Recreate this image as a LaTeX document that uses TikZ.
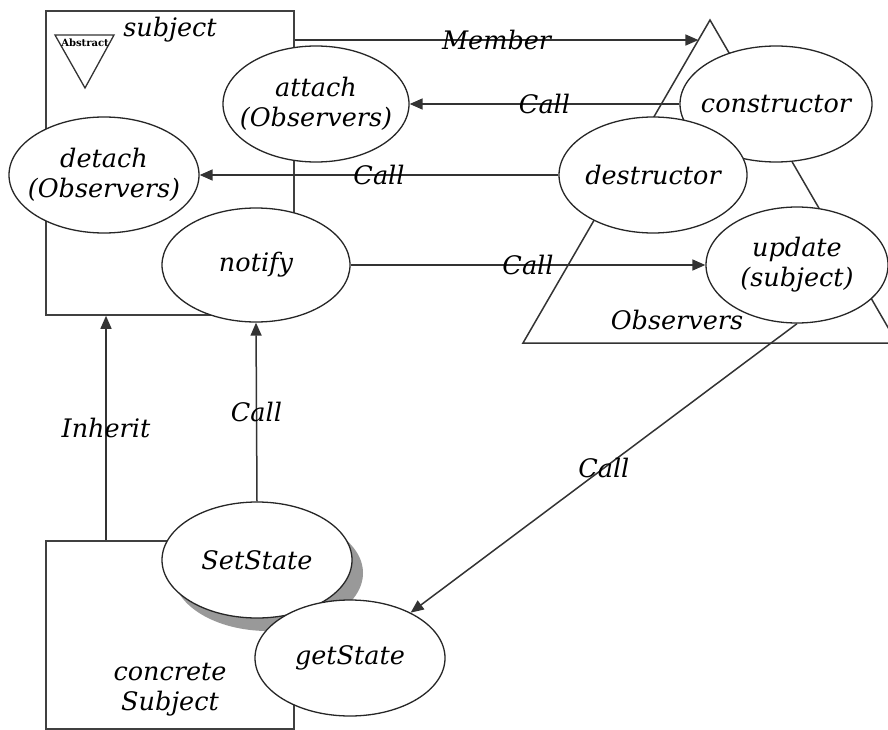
\documentclass[tikz,border=0pt]{standalone}
\usepackage{fontspec}
\setmainfont{DejaVu Serif}
\usetikzlibrary{shapes.geometric,arrows.meta,shadows,calc}
\begin{document}
\begin{tikzpicture}[x=1pt,y=-1pt,
  every node/.style={font=\fontsize{25.5}{30}\selectfont\itshape, text=black},
  ln/.style={draw=black!80, line width=1.5pt},
  arr/.style={ln, -{Triangle[length=13pt,width=11pt]}},
  oval/.style={ellipse, draw=black!85, line width=1.3pt, fill=white,
    inner xsep=-20pt, inner ysep=-8pt, align=center},
  frame/.style={draw=black!75, line width=1.8pt, inner sep=0pt, fill=white},
  lbl/.style={inner sep=1pt}
]
\useasboundingbox (0,0) rectangle (888,730);
\clip (0,0) rectangle (888,730);

% class frames
\node[frame, minimum width=248pt, minimum height=304pt, anchor=north west] (subj) at (45,10) {};
\node[frame, minimum width=248pt, minimum height=188pt, anchor=north west] (conc) at (45,540) {};

% abstract marker
\draw[ln, line width=1.3pt] (55,35) -- (114,35) -- (85,88) -- cycle;
\node[font=\fontsize{10}{10}\selectfont\bfseries, inner sep=0pt] (abs) at (85,43) {Abstract};
\node (subjlbl) at (170,30) {subject};

% observers group
\coordinate (obsTop) at (710,20);
\coordinate (obsL) at (523,343);
\coordinate (obsR) at (897,343);
\draw[ln] (obsTop) -- (obsL) -- (obsR) -- cycle;
\node (obslbl) at (677,320) {Observers};

% operations
\node[oval, minimum width=186pt, minimum height=116pt] (attach) at (316,104) {attach\\(Observers)};
\node[oval, minimum width=190pt, minimum height=116pt] (detach) at (104,175) {detach\\(Observers)};
\node[oval, minimum width=188pt, minimum height=114pt] (notify) at (256,265) {notify};
\node[oval, minimum width=192pt, minimum height=116pt] (constructor) at (776,104) {constructor};
\node[oval, minimum width=188pt, minimum height=116pt] (destructor) at (653,175) {destructor};
\node[oval, minimum width=182pt, minimum height=116pt] (update) at (797,265) {update\\(subject)};

\node[align=center] (conclbl) at (170,690) {concrete\\Subject};
\node[oval, minimum width=190pt, minimum height=116pt,
      drop shadow={shadow xshift=11pt, shadow yshift=-13pt, fill=black!40, opacity=1}] (setstate) at (257,560) {SetState};
\node[oval, minimum width=190pt, minimum height=116pt] (getstate) at (350,658) {getState};

% relations
\coordinate (memEnd) at ($(obsTop)!0.062!(obsL)$);
\coordinate (inh) at (106,0);
\draw[arr] (subj.east |- memEnd) -- node[lbl] {Member} (memEnd);
\draw[arr] (constructor.west) -- node[lbl] {Call} (attach.east);
\draw[arr] (destructor.west) -- node[lbl] {Call} (detach.east);
\draw[arr] (notify.east) -- node[lbl] {Call} (update.west);
\draw[arr] (conc.north -| inh) -- node[lbl] {Inherit} (subj.south -| inh);
\draw[arr] (setstate.north) -- node[lbl] {Call} (notify.south);
\draw[arr] (update.south) -- node[lbl] {Call} (getstate);
\end{tikzpicture}
\end{document}
